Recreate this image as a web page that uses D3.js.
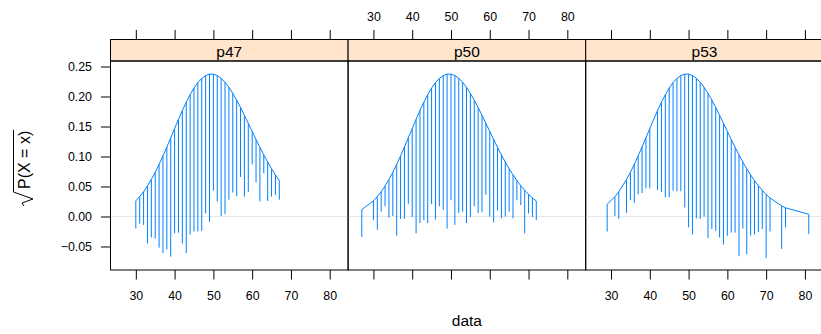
<!DOCTYPE html>
<html>
<head>
<meta charset="utf-8">
<script src="https://cdn.jsdelivr.net/npm/d3@7"></script>
<style>
body { margin: 0; background: #fff; }
text { font-family: "Liberation Sans", Arial, sans-serif; fill: #000; }
</style>
</head>
<body>
<svg width="821" height="334"></svg>
<script>
// panel labels
var panelNames = ['p47', 'p50', 'p53'];

// fitted curve (square root of expected frequency)
var fitX = [27, 29, 30, 31, 32, 33, 34, 35, 36, 37, 38, 39, 40, 41, 42, 43, 44, 45, 46, 47, 48, 49,
            50, 51, 52, 53, 54, 55, 56, 57, 58, 59, 60, 61, 62, 63, 64, 65, 66, 67, 68, 69, 70,
            71, 72, 73, 74, 75, 81];
var fitY = [0.0115, 0.0202, 0.0260, 0.0331, 0.0413, 0.0509, 0.0617, 0.0737, 0.0869, 0.1010,
            0.1158, 0.1312, 0.1466, 0.1619, 0.1767, 0.1905, 0.2031, 0.2141, 0.2232, 0.2302,
            0.2350, 0.2373, 0.2373, 0.2350, 0.2304, 0.2238, 0.2154, 0.2053, 0.1940, 0.1817,
            0.1687, 0.1553, 0.1418, 0.1284, 0.1153, 0.1027, 0.0908, 0.0796, 0.0693, 0.0599,
            0.0513, 0.0437, 0.0369, 0.0310, 0.0258, 0.0214, 0.0176, 0.0144, 0.0037];

// observed values per panel: x and the lower end of each hanging bar
var x47 = [30, 31, 32, 33, 34, 35, 36, 37, 38, 39, 40, 41, 42, 43, 44, 45, 46, 47, 48, 49,
           50, 51, 52, 53, 54, 55, 56, 57, 58, 59, 60, 61, 62, 63, 64, 65, 66, 67];
var low47 = [-0.020, -0.012, -0.014, -0.045, -0.035, -0.037, -0.052, -0.061, -0.055, -0.067,
             -0.028, -0.027, -0.045, -0.061, -0.030, -0.025, -0.025, -0.024, 0.005, -0.009,
             0.043, 0.025, 0.001, 0.004, 0.028, 0.040, 0.034, 0.066, 0.033, 0.041,
             0.087, 0.057, 0.025, 0.072, 0.026, 0.033, 0.036, 0.028];

var x50 = [27, 30, 31, 32, 33, 34, 35, 36, 37, 38, 39, 40, 41, 42, 43, 44, 45, 46, 47, 48, 49,
           50, 51, 52, 53, 54, 55, 56, 57, 58, 59, 60, 61, 62, 63, 64, 65, 66, 67, 68, 69, 70,
           71, 72];
var low50 = [-0.034, -0.006, -0.022, 0.008, 0.017, -0.002, 0.001, -0.032, -0.004, -0.004,
             0.021, -0.001, -0.028, -0.011, -0.006, -0.011, 0.021, -0.005, 0.017, 0.011,
             -0.020, 0.027, -0.014, 0.006, 0.008, -0.011, -0.001, 0.017, 0.006, 0.007,
             0.036, 0.000, -0.010, 0.010, -0.003, 0.000, 0.008, -0.003, 0.027, 0.019,
             -0.028, 0.005, -0.001, -0.006];

var x53 = [29, 31, 32, 34, 35, 36, 37, 38, 39, 40, 42, 43, 44, 45, 46, 47, 48, 49, 50, 51,
           52, 53, 54, 55, 56, 57, 58, 59, 60, 61, 62, 63, 64, 65, 66, 67, 68, 69, 70, 71,
           74, 75, 81];
var low53 = [-0.025, 0.001, -0.004, 0.006, 0.027, 0.023, 0.037, 0.039, 0.047, 0.047,
             0.044, 0.041, 0.032, 0.032, 0.043, 0.042, 0.042, 0.015, -0.018, -0.030,
             -0.003, -0.004, 0.000, -0.036, -0.021, -0.024, -0.035, -0.047, -0.032, -0.027,
             -0.027, -0.066, -0.020, -0.063, -0.032, -0.030, -0.026, -0.021, -0.069, -0.025,
             -0.054, -0.018, -0.029];

var xTicks = [30, 40, 50, 60, 70, 80];
var yTicks = [-0.05, 0, 0.05, 0.10, 0.15, 0.20, 0.25];

var svg = d3.select('svg');

// layout
var panelLeft = 110.5;
var panelWidth = 237.6;
var stripTop = 39.5;
var panelTop = 61;
var panelBottom = 270;
var tick = 9.5;

var fitted = new Map(fitX.map(function(x, i) { return [x, fitY[i]]; }));

var panelData = [
    {name: panelNames[0], x: x47, low: low47},
    {name: panelNames[1], x: x50, low: low50},
    {name: panelNames[2], x: x53, low: low53}
];

var xScale = d3.scaleLinear().domain([23.47, 84.74]).range([0, panelWidth]);
var yScale = d3.scaleLinear().domain([-0.0892, 0.2592]).range([panelBottom, panelTop]);

var line = d3.line()
    .x(function(d) { return xScale(d.x); })
    .y(function(d) { return yScale(d.fit); });

panelData.forEach(function(p, i) {
    var left = panelLeft + i * panelWidth;
    var g = svg.append('g').attr('transform', 'translate(' + [left, 0] + ')');

    var pts = p.x.map(function(x, j) {
        return {x: x, fit: fitted.get(x), low: p.low[j]};
    });

    // zero reference line
    g.append('line')
        .attr('x1', 0).attr('x2', panelWidth)
        .attr('y1', yScale(0)).attr('y2', yScale(0))
        .attr('stroke', '#e6e6e6').attr('stroke-width', 1);

    // hanging bars
    g.selectAll('.bar')
        .data(pts)
        .enter().append('line')
        .attr('class', 'bar')
        .attr('x1', function(d) { return xScale(d.x); })
        .attr('x2', function(d) { return xScale(d.x); })
        .attr('y1', function(d) { return yScale(d.fit); })
        .attr('y2', function(d) { return yScale(d.low); })
        .attr('stroke', '#0080ff')
        .attr('stroke-width', 1);

    // fitted curve
    g.append('path')
        .attr('d', line(pts))
        .attr('fill', 'none')
        .attr('stroke', '#0080ff')
        .attr('stroke-width', 1);

    // strip
    g.append('rect')
        .attr('x', 0).attr('y', stripTop)
        .attr('width', panelWidth).attr('height', panelTop - stripTop)
        .attr('fill', '#ffe5cc').attr('stroke', '#000').attr('stroke-width', 1);
    g.append('text')
        .attr('x', panelWidth / 2).attr('y', 56.5)
        .attr('text-anchor', 'middle')
        .style('font-size', '15.5px')
        .text(p.name);

    // panel border
    g.append('rect')
        .attr('x', 0).attr('y', panelTop)
        .attr('width', panelWidth).attr('height', panelBottom - panelTop)
        .attr('fill', 'none').attr('stroke', '#000').attr('stroke-width', 1);

    // bottom axis (labels on panels 1 and 3)
    var bottomAxis = d3.axisBottom(xScale).tickValues(xTicks).tickSize(tick).tickPadding(12)
        .tickFormat(i === 1 ? '' : d3.format('d'));
    var bx = g.append('g').attr('transform', 'translate(' + [0, panelBottom] + ')').call(bottomAxis);

    // top axis (labels on panel 2)
    var topAxis = d3.axisTop(xScale).tickValues(xTicks).tickSize(tick).tickPadding(9)
        .tickFormat(i === 1 ? d3.format('d') : '');
    var tx = g.append('g').attr('transform', 'translate(' + [0, stripTop] + ')').call(topAxis);

    [bx, tx].forEach(function(ax) {
        ax.select('.domain').remove();
        ax.selectAll('line').attr('stroke', '#000');
        ax.selectAll('text').style('font-size', '12.4px')
            .style('font-family', '"Liberation Sans", Arial, sans-serif');
    });

    if (i === 0) {
        var ly = g.append('g').call(d3.axisLeft(yScale).tickValues(yTicks).tickSize(tick).tickPadding(9)
            .tickFormat(function(d) { return d3.format('.2f')(d).replace('-', '\u2212'); }));
        ly.select('.domain').remove();
        ly.selectAll('line').attr('stroke', '#000');
        ly.selectAll('text').style('font-size', '12.4px')
            .style('font-family', '"Liberation Sans", Arial, sans-serif');
    }
});

// x label
svg.append('text')
    .attr('x', panelLeft + 1.5 * panelWidth).attr('y', 326)
    .attr('text-anchor', 'middle')
    .style('font-size', '15.5px')
    .text('data');

// y label: sqrt(P(X = x))
var ylab = svg.append('g').attr('transform', 'translate(30,206) rotate(-90)');
var ylabText = ylab.append('text')
    .attr('x', 17).attr('y', 0)
    .style('font-size', '16px')
    .text('P(X = x)');
var tw = ylabText.node().getComputedTextLength();
ylab.append('path')
    .attr('d', 'M0,-6 L3,-8 L7,3 L14,-16.5 H' + (17 + tw + 1))
    .attr('fill', 'none').attr('stroke', '#000').attr('stroke-width', 1);
</script>
</body>
</html>
